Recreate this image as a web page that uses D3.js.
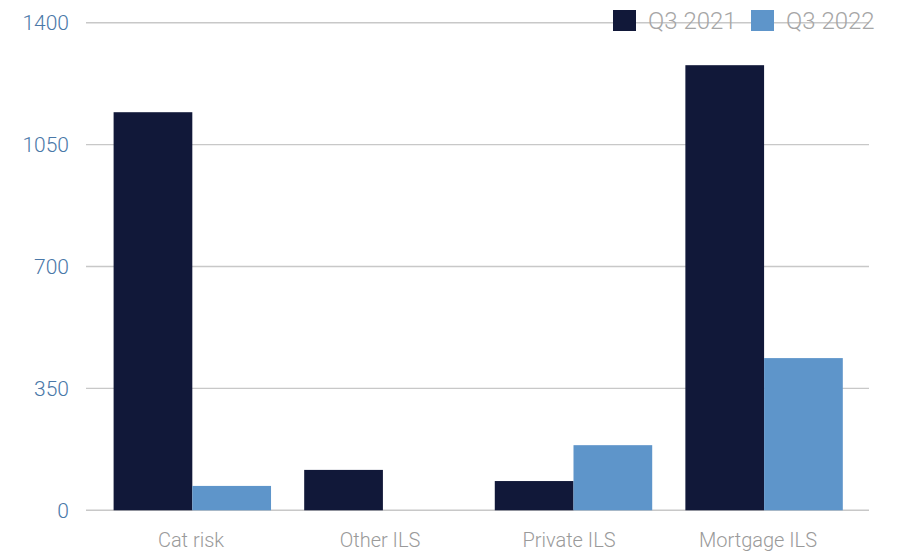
<!DOCTYPE html>
<html>
<head>
<meta charset="utf-8">
<script src="https://cdn.jsdelivr.net/npm/d3@7"></script>
<style>
  html, body { margin: 0; padding: 0; background: #fff; }
  svg { display: block; }
</style>
</head>
<body>
<svg id="chart" width="897" height="554"></svg>
<script>
// ILS issuance by segment, Q3 2021 vs Q3 2022
const categories = ["Cat risk", "Other ILS", "Private ILS", "Mortgage ILS"];
const seriesNames = ["Q3 2021", "Q3 2022"];
const q3_2021 = [1143, 116, 84, 1278];
const q3_2022 = [70, 0, 187, 437];
const yTicks = [0, 350, 700, 1050, 1400];

const colors = ["#111839", "#5e95ca"];
const svg = d3.select("#chart");

// bar groups
const x0 = d3.scaleBand().domain(categories).range([113.6, 842.8]).paddingInner(0.174).paddingOuter(0);
const x1 = d3.scaleBand().domain(seriesNames).range([0, x0.bandwidth()]).padding(0);
// category label positions
const xLab = d3.scaleBand().domain(categories).range([96.5, 852.5]).padding(0);
const y = d3.scaleLinear().domain([0, 1400]).range([510.3, 22.7]);

// gridlines
svg.append("g")
  .selectAll("line")
  .data(yTicks)
  .join("line")
  .attr("x1", 86).attr("x2", 869)
  .attr("y1", d => y(d)).attr("y2", d => y(d))
  .attr("stroke", "#c8c8c8")
  .attr("stroke-width", 1.4);

// y tick labels
svg.append("g")
  .selectAll("text")
  .data(yTicks)
  .join("text")
  .attr("x", 69)
  .attr("y", d => y(d))
  .attr("dy", "0.35em")
  .attr("text-anchor", "end")
  .attr("font-family", "Roboto, 'Liberation Sans', sans-serif")
  .attr("font-weight", 300)
  .attr("font-size", 21)
  .attr("fill", "#4a78a8")
  .text(d => d);

// bars
const rows = categories.map((c, i) => ({ cat: c, values: [q3_2021[i], q3_2022[i]] }));
const groups = svg.append("g")
  .selectAll("g")
  .data(rows)
  .join("g")
  .attr("transform", d => `translate(${x0(d.cat)},0)`);

groups.selectAll("rect")
  .data(d => d.values.map((v, j) => ({ key: seriesNames[j], value: v, j })))
  .join("rect")
  .attr("x", d => x1(d.key))
  .attr("y", d => y(d.value))
  .attr("width", x1.bandwidth())
  .attr("height", d => y(0) - y(d.value))
  .attr("fill", d => colors[d.j]);

// category axis
const xAxis = svg.append("g")
  .attr("transform", `translate(0,${y(0)})`)
  .call(d3.axisBottom(xLab).tickSize(0).tickPadding(23));
xAxis.select(".domain").remove();
xAxis.selectAll("text")
  .attr("font-family", "Roboto, 'Liberation Sans', sans-serif")
  .attr("font-weight", 300)
  .attr("font-size", 20)
  .attr("fill", "#9a9a9a");

// legend
const legendItems = [
  { name: seriesNames[0], color: colors[0], x: 613 },
  { name: seriesNames[1], color: colors[1], x: 751 }
];
const lg = svg.append("g")
  .selectAll("g")
  .data(legendItems)
  .join("g")
  .attr("transform", d => `translate(${d.x},10)`);
lg.append("rect")
  .attr("width", 23).attr("height", 21)
  .attr("fill", d => d.color);
lg.append("text")
  .attr("x", 35).attr("y", 19)
  .attr("font-family", "Roboto, 'Liberation Sans', sans-serif")
  .attr("font-weight", 300)
  .attr("font-size", 24)
  .attr("fill", "#a6a6a6")
  .text(d => d.name);
</script>
</body>
</html>
